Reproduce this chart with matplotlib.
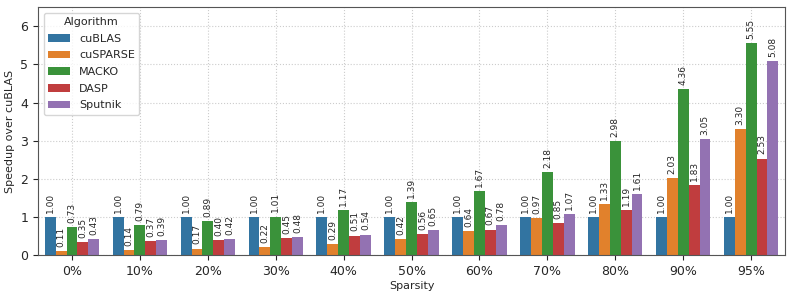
import numpy as np
import matplotlib
matplotlib.use("Agg")
import matplotlib.pyplot as plt
import pandas as pd
import seaborn as sns

sparsity = ["0%", "10%", "20%", "30%", "40%", "50%", "60%", "70%", "80%", "90%", "95%"]
algorithms = ["cuBLAS", "cuSPARSE", "MACKO", "DASP", "Sputnik"]
cublas = [1.00, 1.00, 1.00, 1.00, 1.00, 1.00, 1.00, 1.00, 1.00, 1.00, 1.00]
cusparse = [0.11, 0.14, 0.17, 0.22, 0.29, 0.42, 0.64, 0.97, 1.33, 2.03, 3.30]
macko = [0.73, 0.79, 0.89, 1.01, 1.17, 1.39, 1.67, 2.18, 2.98, 4.36, 5.55]
dasp = [0.35, 0.37, 0.40, 0.45, 0.51, 0.56, 0.67, 0.85, 1.19, 1.83, 2.53]
sputnik = [0.43, 0.39, 0.42, 0.48, 0.54, 0.65, 0.78, 1.07, 1.61, 3.05, 5.08]

rows = []
for alg, vals in zip(algorithms, [cublas, cusparse, macko, dasp, sputnik]):
    for s, v in zip(sparsity, vals):
        rows.append({"Sparsity": s, "Algorithm": alg, "Speedup": v})
df = pd.DataFrame(rows)

sns.set_style("ticks")
plt.rcParams["font.family"] = ["DejaVu Sans"]

fig, ax = plt.subplots(figsize=(7.93, 2.97), dpi=100)
sns.barplot(data=df, x="Sparsity", y="Speedup", hue="Algorithm", ax=ax,
            order=sparsity, hue_order=algorithms, width=0.8, linewidth=0)

for cont in ax.containers:
    ax.bar_label(cont, fmt="%.2f", rotation=90, padding=3, fontsize=6.5)

ax.set_ylim(0, 6.5)
ax.set_xlabel("Sparsity", fontsize=8, labelpad=2)
ax.set_ylabel("Speedup over cuBLAS", fontsize=8)
ax.tick_params(labelsize=9)
ax.grid(True, linestyle=":", linewidth=0.8, color="#cccccc")
ax.set_axisbelow(True)
for sp in ax.spines.values():
    sp.set_color("#555555")

leg = ax.legend(title="Algorithm", loc="upper left", fontsize=8, title_fontsize=8,
                labelspacing=0.6)

plt.subplots_adjust(left=0.048, right=0.99, top=0.976, bottom=0.141)
plt.savefig("out.png", dpi=100)
